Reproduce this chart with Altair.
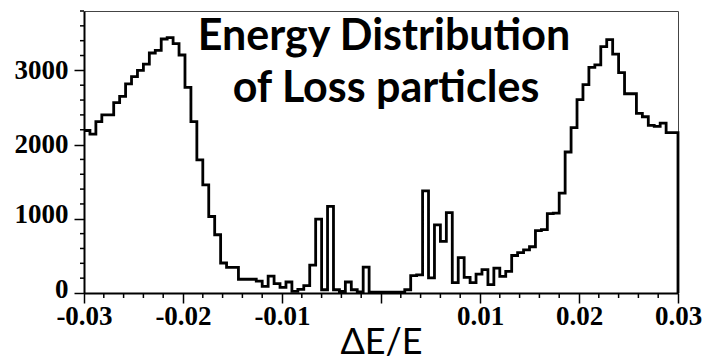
import altair as alt
import pandas as pd

# Histogram of the relative energy deviation of lost particles (100 bins)
x_lo, x_hi = -0.03, 0.03
counts = [2190, 2140, 2310, 2400, 2400, 2565, 2650, 2817, 2916, 3000,
          3084, 3234, 3270, 3423, 3442, 3360, 3207, 2770, 2310, 1794,
          1458, 1031, 785, 404, 345, 345, 185, 185, 185, 160,
          89, 228, 125, 75, 148, 22, 50, 100, 375, 995,
          44, 1166, 44, 20, 148, 44, 15, 350, 12, 12,
          12, 12, 12, 12, 44, 233, 245, 1377, 205, 919,
          697, 1083, 141, 478, 210, 140, 255, 314, 112, 336,
          224, 291, 505, 545, 580, 623, 840, 855, 1070, 1077,
          1346, 1900, 2229, 2605, 2808, 3040, 3073, 3320, 3415, 3220,
          2970, 2685, 2685, 2420, 2375, 2260, 2245, 2290, 2160, 2160]

y_major = [0, 1000, 2000, 3000]
y_minor = [200, 400, 600, 800, 1200, 1400, 1600, 1800, 2200, 2400, 2600,
           2800, 3200, 3400, 3600, 3800]
x_major = [-0.03, -0.02, -0.01, 0.0, 0.01, 0.02, 0.03]
x_minor = [-0.028, -0.026, -0.024, -0.022, -0.018, -0.016, -0.014, -0.012,
           -0.008, -0.006, -0.004, -0.002, 0.002, 0.004, 0.006, 0.008,
           0.012, 0.014, 0.016, 0.018, 0.022, 0.024, 0.026, 0.028]
title_lines = ["Energy Distribution", "of Loss particles"]
x_title = "ΔE/E"

W, H = 594, 282
n = len(counts)
width_bin = (x_hi - x_lo) / n
edges = [x_lo + i * width_bin for i in range(n)]
hist = pd.DataFrame({"x": edges + [x_hi], "count": counts + [0]})

xscale = alt.Scale(domain=[x_lo, x_hi], nice=False, zero=False)
yscale = alt.Scale(domain=[0, 3800], nice=False)

serif = "Liberation Serif"

x_axis = alt.Axis(
    values=x_major, tickSize=10, tickWidth=1.5, tickColor="black",
    domainColor="black", domainWidth=2, grid=False,
    labelFont=serif, labelFontSize=27, labelFontWeight="bold",
    labelColor="black",
    labelPadding=0, labelFlush=False, labelOverlap=False,
    labelExpr="datum.value == 0 ? '' : (datum.value < 0 ? '-' : '') + format(abs(datum.value), '.2f')",
    title=x_title, titleFont="Lato", titleFontSize=36,
    titleFontWeight="normal", titleColor="black", titlePadding=-4)
y_axis = alt.Axis(
    values=y_major, tickSize=10, tickWidth=1.5, tickColor="black",
    domainColor="black", domainWidth=2, grid=False,
    labelFont=serif, labelFontSize=27, labelFontWeight="bold",
    labelColor="black",
    labelPadding=6, labelFlush=False, labelOverlap=False,
    labelOffset={"condition": {"test": "datum.value < 1500", "value": -4},
                 "value": 0},
    format="d", title=None)

line = alt.Chart(hist).mark_line(
    interpolate="step-after", color="black", strokeWidth=2.8
).encode(
    x=alt.X("x:Q", scale=xscale, axis=x_axis),
    y=alt.Y("count:Q", scale=yscale, axis=y_axis),
)

yminor = alt.Chart(pd.DataFrame({"count": y_minor})).mark_rule(
    color="black", strokeWidth=1.5
).encode(
    y=alt.Y("count:Q", scale=yscale, axis=y_axis),
    x=alt.value(-4), x2=alt.value(0),
)

xminor = alt.Chart(pd.DataFrame({"x": x_minor})).mark_rule(
    color="black", strokeWidth=1.5
).encode(
    x=alt.X("x:Q", scale=xscale, axis=x_axis),
    y=alt.value(H), y2=alt.value(H + 5),
)

title_pos = [(300, 39), (302, 91)]
titles = [
    alt.Chart(pd.DataFrame({"a": [0]})).mark_text(
        text=txt, font="Lato", fontSize=43, fontWeight="bold",
        color="black", align="center", baseline="alphabetic"
    ).encode(x=alt.value(px), y=alt.value(py))
    for txt, (px, py) in zip(title_lines, title_pos)
]

chart = alt.layer(line, yminor, xminor, *titles).properties(
    width=W, height=H,
    autosize=alt.AutoSizeParams(type="none"),
    padding={"left": 84, "top": 11, "right": 25, "bottom": 69},
    background="white",
).configure_view(stroke="#444444", strokeWidth=1)

chart.save("out.html", embed_options={"renderer": "svg", "actions": False})
